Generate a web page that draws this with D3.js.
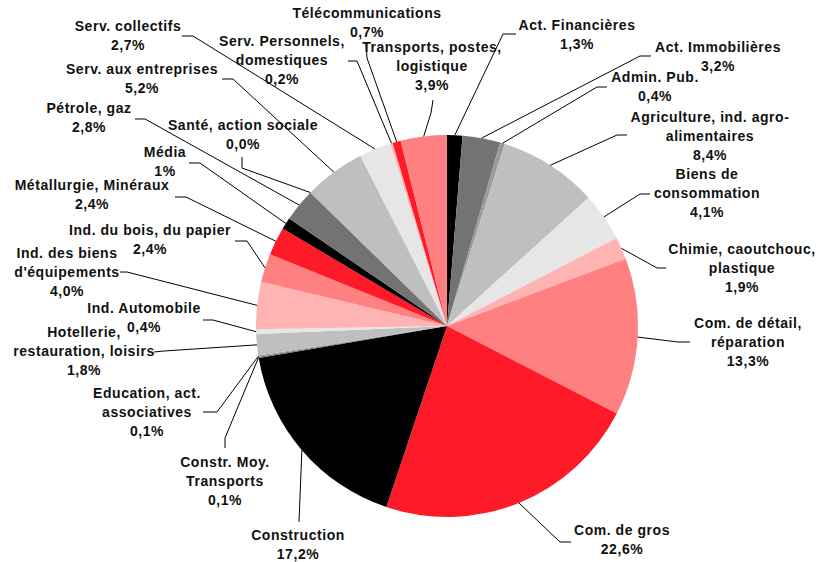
<!DOCTYPE html>
<html>
<head>
<meta charset="utf-8">
<script src="https://cdn.jsdelivr.net/npm/d3@7"></script>
<style>
  body { margin: 0; background: #fff; }
</style>
</head>
<body>
<div id="frame1"></div>
<script>
// sectors, clockwise from 12 o'clock
const labels = [
  ["Act. Financières"],
  ["Act. Immobilières"],
  ["Admin. Pub."],
  ["Agriculture, ind. agro-", "alimentaires"],
  ["Biens de", "consommation"],
  ["Chimie, caoutchouc,", "plastique"],
  ["Com. de détail,", "réparation"],
  ["Com. de gros"],
  ["Construction"],
  ["Constr. Moy.", "Transports"],
  ["Education, act.", "associatives"],
  ["Hotellerie,", "restauration, loisirs"],
  ["Ind. Automobile"],
  ["Ind. des biens", "d'équipements"],
  ["Ind. du bois, du papier"],
  ["Métallurgie, Minéraux"],
  ["Média"],
  ["Pétrole, gaz"],
  ["Santé, action sociale"],
  ["Serv. aux entreprises"],
  ["Serv. collectifs"],
  ["Serv. Personnels,", "domestiques"],
  ["Télécommunications"],
  ["Transports, postes,", "logistique"]
];
const shares = [1.3, 3.2, 0.4, 8.4, 4.1, 1.9, 13.3, 22.6, 17.2, 0.1, 0.1, 1.8,
                0.4, 4.0, 2.4, 2.4, 1, 2.8, 0.0, 5.2, 2.7, 0.2, 0.7, 3.9];
const shareText = ["1,3%", "3,2%", "0,4%", "8,4%", "4,1%", "1,9%", "13,3%", "22,6%",
                   "17,2%", "0,1%", "0,1%", "1,8%", "0,4%", "4,0%", "2,4%", "2,4%",
                   "1%", "2,8%", "0,0%", "5,2%", "2,7%", "0,2%", "0,7%", "3,9%"];

const palette = ["#000000", "#737373", "#9a9a9a", "#bfbfbf", "#e6e6e6", "#ffb3b3", "#ff8080", "#ff1a28"];
// fill index per sector (the last two swap in the original)
const fillIdx = [0,1,2,3,4,5,6,7, 0,1,2,3,4,5,6,7, 0,1,2,3,4,5,7,6];

// label placement: text centre x, first baseline y, leader bend points
const labelPos = [
  {x: 577, y: 30,  pts: [[503, 34], [516, 34]]},
  {x: 718, y: 52,  pts: [[640, 56], [651, 56]]},
  {x: 655, y: 82,  pts: [[597, 87], [607, 87]]},
  {x: 710, y: 122, pts: [[617, 135], [627, 135]]},
  {x: 707, y: 179, pts: [[640, 194], [650, 194]]},
  {x: 742, y: 254, pts: [[657, 268], [666, 268]]},
  {x: 748, y: 328, pts: [[678, 342], [690, 342]]},
  {x: 622, y: 535, pts: [[560, 542], [571, 542]]},
  {x: 298, y: 540, pts: [[299, 522]]},
  {x: 225, y: 467, pts: [[225, 438], [225, 448]]},
  {x: 147, y: 398, pts: [[217, 412], [203, 412]]},
  {x: 84,  y: 337, pts: [[164, 351], [154, 352]]},
  {x: 144, y: 313, pts: [[213, 320], [203, 320]]},
  {x: 67,  y: 258, pts: [[127, 272], [120, 272]]},
  {x: 150, y: 235, pts: [[247, 241], [235, 241]]},
  {x: 92,  y: 190, pts: [[186, 197], [175, 197]]},
  {x: 165, y: 157, pts: [[200, 163], [189, 163]]},
  {x: 89,  y: 113, pts: [[145, 119], [135, 119]]},
  {x: 243, y: 130, pts: [[242, 168], [242, 157]]},
  {x: 142, y: 74,  pts: [[233, 79], [222, 79]]},
  {x: 128, y: 31,  pts: [[193, 36], [182, 36]]},
  {x: 282, y: 46,  pts: [[357, 61], [348, 61]]},
  {x: 367, y: 18,  pts: [[367, 58], [366, 42]]},
  {x: 432, y: 52,  pts: [[431, 113], [433, 100]]}
];

const width = 819, height = 562;
const cx = 447, cy = 326, radius = 191;

const svg = d3.select("#frame1")
  .append("svg")
  .attr("width", width)
  .attr("height", height);

const data = shares.map((v, i) => ({name: labels[i], value: v, pct: shareText[i], i: i}));

const pie = d3.pie()
  .sort(null)
  .value(d => d.value);

const arcs = pie(data);

const arc = d3.arc()
  .innerRadius(0)
  .outerRadius(radius);

const edge = d3.arc()
  .innerRadius(radius)
  .outerRadius(radius);

const g = svg.append("g")
  .attr("transform", `translate(${cx}, ${cy})`);

g.selectAll("path")
  .data(arcs)
  .join("path")
    .attr("d", arc)
    .attr("fill", d => palette[fillIdx[d.data.i]]);

// leader lines
const line = d3.line();
svg.append("g")
  .selectAll("path")
  .data(arcs)
  .join("path")
    .attr("d", d => {
      const c = edge.centroid(d);
      const start = [cx + c[0], cy + c[1]];
      return line([start].concat(labelPos[d.data.i].pts));
    })
    .attr("fill", "none")
    .attr("stroke", "#000")
    .attr("stroke-width", 1);

// labels
const lab = svg.append("g")
  .attr("font-family", "'Liberation Sans', Arial, sans-serif")
  .attr("font-size", 14)
  .attr("font-weight", "bold")
  .attr("letter-spacing", "0.55px")
  .attr("fill", "#111")
  .attr("text-anchor", "middle")
  .selectAll("text")
  .data(data)
  .join("text")
    .attr("x", d => labelPos[d.i].x)
    .attr("y", d => labelPos[d.i].y);

lab.selectAll("tspan")
  .data(d => d.name.concat([d.pct]).map(t => ({t: t, x: labelPos[d.i].x})))
  .join("tspan")
    .attr("x", d => d.x)
    .attr("dy", (d, j) => j === 0 ? 0 : 19)
    .text(d => d.t);
</script>
</body>
</html>
